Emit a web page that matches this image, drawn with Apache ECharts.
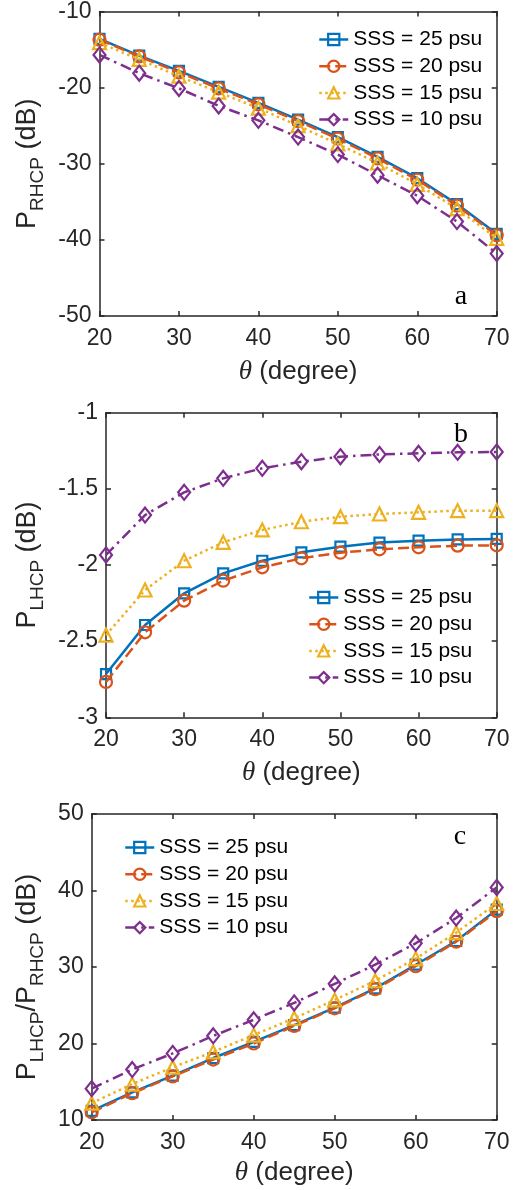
<!DOCTYPE html>
<html>
<head>
<meta charset="utf-8">
<script src="https://cdn.jsdelivr.net/npm/echarts@6/dist/echarts.min.js"></script>
<style>
html,body{margin:0;padding:0;background:#fff;}
#chart{width:516px;height:1190px;}
</style>
</head>
<body>
<div id="chart"></div>
<script>
// ---------- data ----------
const theta = [20, 25, 30, 35, 40, 45, 50, 55, 60, 65, 70];
const seriesNames = ['SSS = 25 psu', 'SSS = 20 psu', 'SSS = 15 psu', 'SSS = 10 psu'];

// panel a: P_RHCP (dB)
const rhcp25 = [-13.6, -15.8, -17.8, -19.9, -22.0, -24.2, -26.5, -29.1, -31.9, -35.3, -39.2];
const rhcp20 = [-13.7, -15.9, -18.0, -20.1, -22.2, -24.4, -26.7, -29.3, -32.1, -35.5, -39.4];
const rhcp15 = [-14.1, -16.3, -18.5, -20.6, -22.7, -25.0, -27.4, -29.9, -32.7, -35.9, -39.8];
const rhcp10 = [-15.7, -18.1, -20.1, -22.4, -24.3, -26.5, -28.8, -31.5, -34.2, -37.6, -41.8];

// panel b: P_LHCP (dB)
const lhcp25 = [-2.716, -2.394, -2.186, -2.055, -1.972, -1.917, -1.880, -1.853, -1.840, -1.832, -1.829];
const lhcp20 = [-2.768, -2.442, -2.234, -2.103, -2.015, -1.956, -1.919, -1.897, -1.884, -1.873, -1.871];
const lhcp15 = [-2.460, -2.164, -1.972, -1.851, -1.770, -1.716, -1.683, -1.665, -1.654, -1.643, -1.643];
const lhcp10 = [-1.934, -1.672, -1.523, -1.431, -1.365, -1.322, -1.289, -1.274, -1.267, -1.260, -1.258];

// panel c: P_LHCP / P_RHCP (dB)
const ratio25 = [11.2, 13.6, 15.8, 18.1, 20.2, 22.4, 24.7, 27.2, 30.3, 33.4, 37.5];
const ratio20 = [11.0, 13.5, 15.7, 17.9, 20.0, 22.3, 24.6, 27.1, 30.1, 33.3, 37.3];
const ratio15 = [12.2, 14.7, 16.9, 18.9, 21.1, 23.3, 25.7, 28.2, 31.1, 34.5, 38.3];
const ratio10 = [14.1, 16.6, 18.7, 21.0, 23.1, 25.3, 27.8, 30.3, 33.1, 36.4, 40.4];

// axis ranges / ticks
const xRange = {min: 20, max: 70, interval: 10};
const yRangeA = {min: -50, max: -10, interval: 10};
const yRangeB = {min: -3, max: -1, interval: 0.5};
const yRangeC = {min: 10, max: 50, interval: 10};
const panelLetters = ['a', 'b', 'c'];

// ---------- styling ----------
const SANS = '"Liberation Sans", Arial, Helvetica, sans-serif';
const SERIF = '"Liberation Serif", "Times New Roman", serif';
const AX = '#262626';
const colors = ['#0072BD', '#D95319', '#EDB120', '#7E2F8E'];
const symbols = ['rect', 'circle', 'triangle', 'diamond'];
const symSizes = [10, 12, 13, [12, 15]];
const dashes = ['solid', [11, 5], [2.5, 3.5], [11, 5, 2.5, 5]];

const grids = [
  {left: 99.5, top: 11.5, width: 397.2, height: 304.5},
  {left: 106, top: 412.7, width: 390.7, height: 304.6},
  {left: 91.7, top: 814, width: 405, height: 306}
];

const richTitle = {
  m: {fontSize: 27, lineHeight: 27, fontFamily: SANS, color: AX, padding: [0, 0, 6.5, 0]},
  s: {fontSize: 19, lineHeight: 19, fontFamily: SANS, color: AX, padding: [14.5, 0, 0, 0]}
};
const yNames = [
  '{m|P}{s|RHCP}{m| (dB)}',
  '{m|P}{s|LHCP}{m| (dB)}',
  '{m|P}{s|LHCP}{m|/P}{s|RHCP}{m| (dB)}'
];
const yGaps = [52.5, 59, 44.7];
const yPads = [[0, 0, 0, 0], [0, 0, 0, 0], [0, 20, 0, 0]];
const xGaps = [42, 42, 39];
const yRanges = [yRangeA, yRangeB, yRangeC];

const xAxes = [], yAxes = [];
for (let g = 0; g < 3; g++) {
  const common = {
    type: 'value', gridIndex: g,
    axisLine: {show: true, onZero: false, lineStyle: {color: AX, width: 1.5}},
    axisTick: {show: true, inside: true, length: 5, lineStyle: {color: AX, width: 1.5}},
    splitLine: {show: false}
  };
  xAxes.push(Object.assign({}, common, xRange, {
    position: 'bottom',
    axisLabel: {fontSize: 23, fontFamily: SANS, color: AX, margin: 11},
    name: '{t|θ}{n| (degree)}',
    nameLocation: 'middle', nameGap: xGaps[g],
    nameTextStyle: {
      rich: {
        t: {fontSize: 27, fontFamily: SERIF, fontStyle: 'italic', color: AX},
        n: {fontSize: 26, fontFamily: SANS, color: AX}
      }
    }
  }));
  xAxes.push(Object.assign({}, common, xRange, {position: 'top', axisLabel: {show: false}}));
  yAxes.push(Object.assign({}, common, yRanges[g], {
    position: 'left',
    axisLabel: {fontSize: 23, fontFamily: SANS, color: AX, margin: 8},
    name: yNames[g], nameLocation: 'middle', nameGap: yGaps[g],
    nameTextStyle: {rich: richTitle, padding: yPads[g]}
  }));
  yAxes.push(Object.assign({}, common, yRanges[g], {position: 'right', axisLabel: {show: false}}));
}

const panelData = [
  [rhcp25, rhcp20, rhcp15, rhcp10],
  [lhcp25, lhcp20, lhcp15, lhcp10],
  [ratio25, ratio20, ratio15, ratio10]
];
const series = [];
for (let g = 0; g < 3; g++) {
  for (let k = 0; k < 4; k++) {
    series.push({
      type: 'line', name: seriesNames[k],
      xAxisIndex: g * 2, yAxisIndex: g * 2,
      data: theta.map((t, i) => [t, panelData[g][k][i]]),
      symbol: symbols[k], symbolSize: symSizes[k],
      showAllSymbol: true,
      color: colors[k],
      lineStyle: {color: colors[k], width: 2.5, type: dashes[k]},
      itemStyle: {color: 'rgba(255,255,255,0)', borderColor: colors[k], borderWidth: 2.2},
      emphasis: {disabled: true},
      animation: false,
      z: 2 + k
    });
  }
}

const legendPos = [
  {left: 313, top: 24},
  {left: 303, top: 582},
  {left: 119, top: 832}
];
const legends = legendPos.map(p => ({
  left: p.left, top: p.top, orient: 'vertical',
  data: seriesNames,
  itemWidth: 29, itemHeight: 14, itemGap: 5.7,
  selectedMode: false,
  itemStyle: {borderWidth: 2.2},
  lineStyle: {width: 2.5},
  textStyle: {fontSize: 21, fontFamily: SANS, color: '#000'}
}));

const letterPos = [[461, 297], [461, 434.7], [460, 837]];
const graphics = letterPos.map((p, i) => ({
  type: 'text', x: p[0], y: p[1],
  style: {text: panelLetters[i], font: '28px ' + SERIF, fill: '#000', align: 'center', verticalAlign: 'middle'},
  z: 100
}));

const chart = echarts.init(document.getElementById('chart'), null, {renderer: 'canvas'});
chart.setOption({
  animation: false,
  backgroundColor: '#fff',
  grid: grids,
  xAxis: xAxes,
  yAxis: yAxes,
  legend: legends,
  series: series,
  graphic: graphics
});
</script>
</body>
</html>
